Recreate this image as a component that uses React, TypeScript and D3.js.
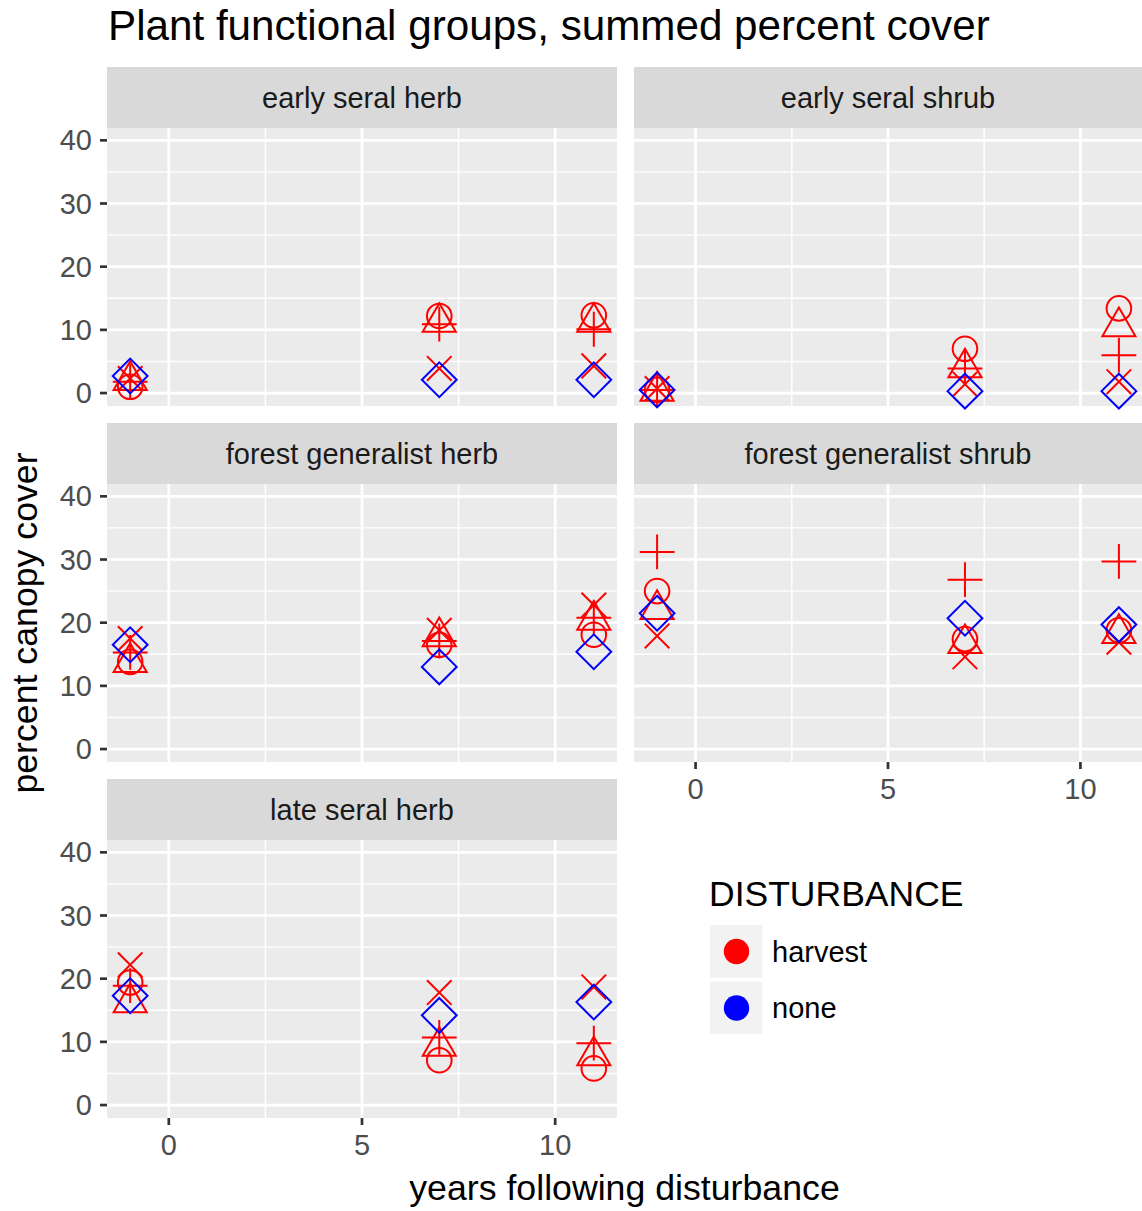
import * as d3 from 'd3';

// facets, in facet_wrap order
const panels = [
    'early seral herb',
    'early seral shrub',
    'forest generalist herb',
    'forest generalist shrub',
    'late seral herb',
];

const years = [-1, 7, 11];

// one shape per treatment; only the diamond is undisturbed
const shapes = ['circle', 'triangle', 'plus', 'cross', 'diamond'];
const disturbance = ['harvest', 'harvest', 'harvest', 'harvest', 'none'];

// percent cover, one row per panel, one array per shape (values at years -1, 7, 11)
const circleCover = [
    [1.0, 12.2, 12.3],
    [0.5, 7.0, 13.4],
    [13.8, 16.5, 18.1],
    [25.0, 17.4, 18.8],
    [19.4, 7.1, 5.8],
];
const triangleCover = [
    [2.0, 11.2, 11.2],
    [0.3, 4.0, 10.5],
    [13.7, 17.8, 20.4],
    [22.1, 16.7, 18.3],
    [16.2, 9.3, 7.8],
];
const plusCover = [
    [1.8, 10.9, 10.1],
    [0.5, 3.9, 6.0],
    [15.3, 17.1, 20.8],
    [31.2, 26.8, 29.7],
    [18.9, 10.7, 9.8],
];
const crossCover = [
    [2.3, 3.9, 4.3],
    [0.7, 1.4, 1.8],
    [17.5, 18.8, 22.8],
    [17.9, 14.6, 16.9],
    [22.2, 17.8, 18.7],
];
const diamondCover = [
    [2.7, 2.1, 2.1],
    [0.5, 0.3, 0.3],
    [16.5, 13.0, 15.4],
    [21.5, 20.7, 19.7],
    [17.3, 14.2, 16.3],
];
const coverByShape = [circleCover, triangleCover, plusCover, crossCover, diamondCover];

const yTicks = [0, 10, 20, 30, 40];
const yMinor = [5, 15, 25, 35];
const xTicks = [0, 5, 10];
const xMinor = [2.5, 7.5];

const legendLabels = ['harvest', 'none'];
const colors = { harvest: '#FF0000', none: '#0000FF' };

const FONT = '"Liberation Sans", Arial, Helvetica, sans-serif';
const R = 12.3;

const colX = [[107, 617], [634, 1142]];
const stripTop = [67, 423, 779];
const stripH = 61;
const panelH = 278;

const shapePath = (shape) => {
    const s2 = Math.SQRT2 * R;
    switch (shape) {
        case 'triangle': {
            const r = 1.5551 * R, xc = 1.3468 * R, yc = 0.7776 * R;
            return `M0,${-r}L${xc},${yc}L${-xc},${yc}Z`;
        }
        case 'plus':
            return `M${-s2},0H${s2}M0,${-s2}V${s2}`;
        case 'cross':
            return `M${-R},${-R}L${R},${R}M${-R},${R}L${R},${-R}`;
        case 'diamond':
            return `M0,${-s2}L${s2},0L0,${s2}L${-s2},0Z`;
        default:
            return `M${R},0A${R},${R} 0 1,1 ${-R},0A${R},${R} 0 1,1 ${R},0Z`;
    }
};

const Panel = ({ index }) => {
    const col = index % 2;
    const row = Math.floor(index / 2);
    const [x0, x1] = colX[col];
    const top = stripTop[row] + stripH;
    const bottom = top + panelH;

    const x = d3.scaleLinear().domain([-1.6, 11.6]).range([x0, x1]);
    const y = d3.scaleLinear().domain([-2.05, 41.95]).range([bottom, top]);

    const showY = col === 0;
    const showX = index === 3 || index === 4;

    return (
        <g>
            <rect x={x0} y={stripTop[row]} width={x1 - x0} height={stripH} fill="#D9D9D9" />
            <text x={(x0 + x1) / 2} y={stripTop[row] + stripH / 2} dy="0.35em" textAnchor="middle"
                fontSize={29} fill="#1A1A1A">{panels[index]}</text>
            <rect x={x0} y={top} width={x1 - x0} height={panelH} fill="#EBEBEB" />
            {yMinor.map(v => (
                <line key={'ym' + v} x1={x0} x2={x1} y1={y(v)} y2={y(v)} stroke="#fff" strokeWidth={1.4} />
            ))}
            {xMinor.map(v => (
                <line key={'xm' + v} x1={x(v)} x2={x(v)} y1={top} y2={bottom} stroke="#fff" strokeWidth={1.4} />
            ))}
            {yTicks.map(v => (
                <line key={'y' + v} x1={x0} x2={x1} y1={y(v)} y2={y(v)} stroke="#fff" strokeWidth={2.7} />
            ))}
            {xTicks.map(v => (
                <line key={'x' + v} x1={x(v)} x2={x(v)} y1={top} y2={bottom} stroke="#fff" strokeWidth={2.7} />
            ))}
            {shapes.map((shape, si) =>
                years.map((yr, yi) => (
                    <path key={shape + yr} d={shapePath(shape)}
                        transform={`translate(${x(yr)},${y(coverByShape[si][index][yi])})`}
                        fill="none" stroke={colors[disturbance[si]]} strokeWidth={2} />
                ))
            )}
            {showY && yTicks.map(v => (
                <g key={'yl' + v}>
                    <line x1={x0 - 7} x2={x0} y1={y(v)} y2={y(v)} stroke="#333" strokeWidth={2.7} />
                    <text x={x0 - 15} y={y(v)} dy="0.35em" textAnchor="end" fontSize={29} fill="#4D4D4D">{v}</text>
                </g>
            ))}
            {showX && xTicks.map(v => (
                <g key={'xl' + v}>
                    <line x1={x(v)} x2={x(v)} y1={bottom} y2={bottom + 7} stroke="#333" strokeWidth={2.7} />
                    <text x={x(v)} y={bottom + 37} textAnchor="middle" fontSize={29} fill="#4D4D4D">{v}</text>
                </g>
            ))}
        </g>
    );
};

const App = () => {
    const width = 1142;
    const height = 1211;
    return (
        <svg width={width} height={height} fontFamily={FONT}
            style={{ position: 'absolute', left: 0, top: 0, background: '#fff' }}>
            <rect width={width} height={height} fill="#fff" />
            <text x={108} y={40} fontSize={42.2} fill="#000">Plant functional groups, summed percent cover</text>
            {panels.map((p, i) => <Panel key={p} index={i} />)}
            <text x={624.5} y={1200} textAnchor="middle" fontSize={35.7} fill="#000">years following disturbance</text>
            <text transform="translate(37,623) rotate(-90)" textAnchor="middle" fontSize={35.7} fill="#000">percent canopy cover</text>

            <text x={709} y={906} fontSize={35.5} fill="#000">DISTURBANCE</text>
            {legendLabels.map((lab, i) => {
                const ky = 925 + i * 56.5;
                return (
                    <g key={lab}>
                        <rect x={710} y={ky} width={52.5} height={52.5} fill="#F2F2F2" />
                        <circle cx={736.5} cy={ky + 26.5} r={12.7} fill={colors[lab]} />
                        <text x={772} y={ky + 26.5} dy="0.35em" fontSize={29} fill="#000">{lab}</text>
                    </g>
                );
            })}
        </svg>
    );
};

export default App;
